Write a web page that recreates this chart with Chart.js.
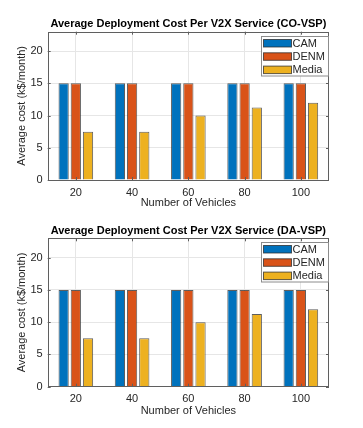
<!DOCTYPE html>
<html>
<head>
<meta charset="utf-8">
<script src="https://cdn.jsdelivr.net/npm/chart.js@4.4.1/dist/chart.umd.min.js"></script>
<style>
    html, body { margin: 0; padding: 0; background: #fff; }
    .panel { position: relative; width: 363px; height: 214px; }
</style>
</head>
<body>
<div class="panel"><canvas id="chart-co"></canvas></div>
<div class="panel"><canvas id="chart-da"></canvas></div>
<script>
// Data
const vehicles = ['20', '40', '60', '80', '100'];
const seriesNames = ['CAM', 'DENM', 'Media'];
const coCam = [15, 15, 15, 15, 15];
const coDenm = [15, 15, 15, 15, 15];
const coMedia = [7.5, 7.5, 10, 11.25, 12];
const daCam = [15, 15, 15, 15, 15];
const daDenm = [15, 15, 15, 15, 15];
const daMedia = [7.5, 7.5, 10, 11.25, 12];
const yTicks = [0, 5, 10, 15, 20];
const yMax = 23;

const colors = ['#0072BD', '#D95319', '#EDB120'];
const edge = 'rgba(40,40,40,0.75)';
const textColor = '#262626';
const fontFamily = '"Liberation Sans", Arial, Helvetica, sans-serif';

// draws axes box, inward ticks, title and the in-plot legend (MATLAB look)
const matlabFrame = {
    id: 'matlabFrame',
    afterDatasetsDraw(chart, args, opts) {
        const { ctx, chartArea: a } = chart;
        const yScale = chart.scales.y;
        const xScale = chart.scales.x;
        ctx.save();

        // box
        ctx.strokeStyle = '#5f5f5f';
        ctx.lineWidth = 1;
        ctx.strokeRect(Math.round(a.left) + 0.5, Math.round(a.top) + 0.5,
            Math.round(a.right - a.left) - 1, Math.round(a.bottom - a.top));

        // inward tick marks
        ctx.beginPath();
        yTicks.forEach(v => {
            const py = Math.round(yScale.getPixelForValue(v)) + 0.5;
            ctx.moveTo(a.left, py); ctx.lineTo(a.left + 3, py);
            ctx.moveTo(a.right, py); ctx.lineTo(a.right - 3, py);
        });
        vehicles.forEach((c, i) => {
            const px = Math.round(xScale.getPixelForValue(i)) + 0.5;
            ctx.moveTo(px, a.bottom); ctx.lineTo(px, a.bottom - 3);
            ctx.moveTo(px, a.top); ctx.lineTo(px, a.top + 3);
        });
        ctx.stroke();

        // legend
        const bw = 67, bh = 39.5;
        const bx = Math.round(a.right - bw - 1) + 0.5;
        const by = Math.round(a.top + 4) + 0.5;
        ctx.fillStyle = '#fff';
        ctx.fillRect(bx, by, bw, bh);
        ctx.strokeStyle = '#8c8c8c';
        ctx.strokeRect(bx, by, bw, bh);
        ctx.font = '11px ' + fontFamily;
        ctx.textBaseline = 'middle';
        chart.data.datasets.forEach((ds, i) => {
            const cy = by + 6.5 + i * 13.3;
            ctx.fillStyle = ds.backgroundColor;
            ctx.fillRect(bx + 2, cy - 3.5, 28, 7.5);
            ctx.strokeStyle = edge;
            ctx.strokeRect(bx + 2, cy - 3.5, 28, 7.5);
            ctx.fillStyle = textColor;
            ctx.fillText(ds.label, bx + 31, cy + 0.5);
        });

        // title, centred over the plot area
        ctx.font = 'bold 11px ' + fontFamily;
        ctx.fillStyle = '#000';
        ctx.textAlign = 'center';
        ctx.textBaseline = 'middle';
        ctx.fillText(opts.text, (a.left + a.right) / 2, a.top - 7.4);
        ctx.restore();
    }
};

function makeChart(id, title, cam, denm, media, topPad, xHeight, xTitlePad) {
    const ds = [cam, denm, media].map((d, i) => ({
        label: seriesNames[i],
        data: d,
        backgroundColor: colors[i],
        borderColor: edge,
        borderWidth: 1,
        categoryPercentage: 0.65,
        barPercentage: 0.84
    }));
    return new Chart(document.getElementById(id), {
        type: 'bar',
        data: { labels: vehicles, datasets: ds },
        options: {
            responsive: true,
            maintainAspectRatio: false,
            animation: false,
            layout: { padding: { left: 0, right: 34, top: topPad, bottom: 0 } },
            plugins: {
                legend: { display: false },
                title: { display: false },
                tooltip: { enabled: false },
                matlabFrame: { text: title }
            },
            scales: {
                x: {
                    offset: true,
                    grid: { offset: false, color: '#e6e6e6', drawTicks: false },
                    border: { display: false },
                    ticks: { color: textColor, font: { family: fontFamily, size: 11 }, padding: 6, maxRotation: 0 },
                    title: {
                        display: true, text: 'Number of Vehicles', color: textColor,
                        font: { family: fontFamily, size: 11 }, padding: { top: 0, bottom: xTitlePad }
                    },
                    afterFit: s => { s.height = xHeight; }
                },
                y: {
                    min: 0,
                    max: yMax,
                    afterBuildTicks: s => { s.ticks = yTicks.map(v => ({ value: v })); },
                    grid: { color: '#e6e6e6', drawTicks: false },
                    border: { display: false },
                    ticks: { color: textColor, font: { family: fontFamily, size: 11 }, padding: 5 },
                    title: {
                        display: true, text: 'Average cost (k$/month)', color: textColor,
                        font: { family: fontFamily, size: 11 }, padding: { top: 15.7, bottom: 0 }
                    },
                    afterFit: s => { s.width = 47.7; }
                }
            }
        },
        plugins: [matlabFrame]
    });
}

makeChart('chart-co', 'Average Deployment Cost Per V2X Service (CO-VSP)', coCam, coDenm, coMedia, 31.7, 34, 4.4);
makeChart('chart-da', 'Average Deployment Cost Per V2X Service (DA-VSP)', daCam, daDenm, daMedia, 24.3, 41.3, 10.7);
</script>
</body>
</html>
